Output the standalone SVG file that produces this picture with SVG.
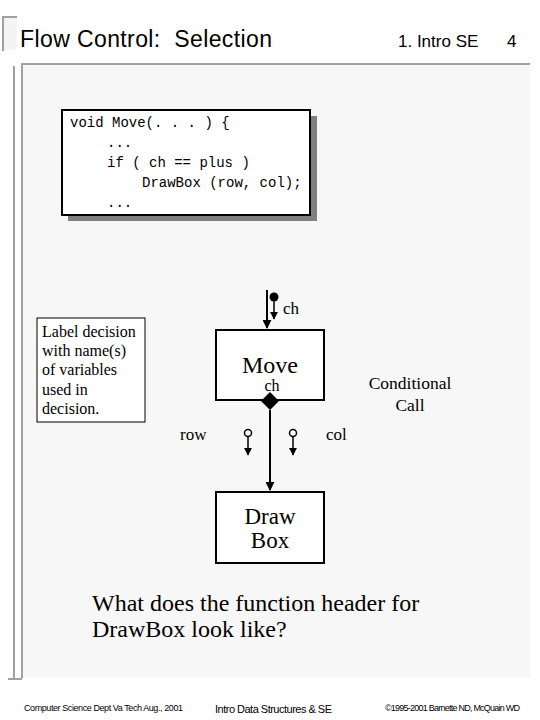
<svg xmlns="http://www.w3.org/2000/svg" width="540" height="720" viewBox="0 0 540 720">
<defs>
<style>
.sans{font-family:"Liberation Sans",Arial,sans-serif;fill:#000}
.serif{font-family:"Liberation Serif","Times New Roman",serif;fill:#000}
.mono{font-family:"Liberation Mono","Courier New",monospace;font-size:14px;fill:#000}
.box{fill:#fff;stroke:#000;stroke-width:2}
.line{stroke:#000;stroke-width:2;fill:none}
.stem{stroke:#000;stroke-width:1.5;fill:none}
.frame{stroke:#a0a0a0;stroke-width:2;fill:none}
</style>
<marker id="arr" viewBox="0 0 10 10" refX="9" refY="5" markerWidth="4.5" markerHeight="4.5" orient="auto" markerUnits="strokeWidth">
<path d="M0,0 L10,5 L0,10 z" fill="#000"/>
</marker>
<marker id="arrs" viewBox="0 0 10 10" refX="9" refY="5" markerWidth="5.5" markerHeight="5.5" orient="auto" markerUnits="strokeWidth">
<path d="M0,0 L10,5 L0,10 z" fill="#000"/>
</marker>
</defs>
<rect x="0" y="0" width="540" height="720" fill="#fff"/>
<!-- frame -->
<rect x="3" y="17" width="14" height="33" fill="#f4f4f4"/>
<path class="frame" d="M3,51 V17 H17"/>
<rect x="22" y="64" width="508" height="614" fill="#f7f7f7"/>
<path class="frame" d="M22,678 V64 H530"/>
<path class="frame" d="M14,678 V66"/>
<path class="frame" d="M8,679 H22"/>
<!-- header -->
<text class="sans" x="20" y="47" font-size="23" xml:space="preserve" textLength="252">Flow Control:  Selection</text>
<text class="sans" x="398" y="47" font-size="17">1. Intro SE</text>
<text class="sans" x="507" y="47" font-size="17">4</text>
<!-- code box -->
<g id="code">
<rect x="68" y="116" width="249" height="105" fill="#808080"/>
<rect x="62" y="110" width="248" height="105" class="box"/>
<text class="mono" x="70" y="127">void Move(. . . ) {</text>
<text class="mono" x="107" y="147">...</text>
<text class="mono" x="107" y="167">if ( ch == plus )</text>
<text class="mono" x="142" y="187">DrawBox (row, col);</text>
<text class="mono" x="107" y="207">...</text>
</g>
<!-- label box -->
<g id="label">
<rect x="37" y="318" width="108" height="104" fill="#fff" stroke="#000" stroke-width="1"/>
<text class="serif" font-size="16" x="42" y="337">Label decision</text>
<text class="serif" font-size="16" x="42" y="356">with name(s)</text>
<text class="serif" font-size="16" x="42" y="375">of variables</text>
<text class="serif" font-size="16" x="42" y="395">used in</text>
<text class="serif" font-size="16" x="42" y="414">decision.</text>
</g>
<!-- Move node -->
<g id="move">
<rect x="216" y="330" width="108" height="70" class="box"/>
<text class="serif" x="270" y="373" font-size="24" text-anchor="middle">Move</text>
<text class="serif" x="272" y="391" font-size="16" text-anchor="middle">ch</text>
</g>
<!-- Draw Box node -->
<g id="drawbox">
<rect x="216" y="492" width="108" height="71" class="box"/>
<text class="serif" x="270" y="524" font-size="23" text-anchor="middle">Draw</text>
<text class="serif" x="270" y="548" font-size="23" text-anchor="middle">Box</text>
</g>
<!-- connectors -->
<g id="connectors">
<path class="line" d="M267,290 V328" marker-end="url(#arr)"/>
<path d="M270,392 L279,401 L270,410 L261,401 z" fill="#000"/>
<path class="line" d="M270,410 V490" marker-end="url(#arr)"/>
<!-- ch couple -->
<circle cx="274" cy="297" r="4.5" fill="#000"/>
<path class="stem" d="M274,301 V319" marker-end="url(#arrs)"/>
<!-- row couple -->
<circle cx="248" cy="433" r="3.5" fill="#fff" stroke="#000" stroke-width="1.5"/>
<path class="stem" d="M248,437 V455" marker-end="url(#arrs)"/>
<!-- col couple -->
<circle cx="293" cy="433" r="3.5" fill="#fff" stroke="#000" stroke-width="1.5"/>
<path class="stem" d="M293,437 V455" marker-end="url(#arrs)"/>
</g>
<text class="serif" x="283" y="314" font-size="17">ch</text>
<text class="serif" x="180" y="440" font-size="17">row</text>
<text class="serif" x="326" y="440" font-size="17">col</text>
<text class="serif" x="410" y="389" font-size="17.5" text-anchor="middle">Conditional</text>
<text class="serif" x="410" y="411" font-size="17.5" text-anchor="middle">Call</text>
<!-- question -->
<text class="serif" x="92" y="611" font-size="24">What does the function header for</text>
<text class="serif" x="92" y="637" font-size="24">DrawBox look like?</text>
<!-- footer -->
<text class="sans" x="24" y="711" font-size="9" fill="#333" textLength="159">Computer Science Dept Va Tech Aug., 2001</text>
<text class="sans" x="215" y="713" font-size="11" textLength="117">Intro Data Structures &amp; SE</text>
<text class="sans" x="385" y="711" font-size="9" fill="#333" textLength="135">©1995-2001 Barnette ND, McQuain WD</text>
</svg>
